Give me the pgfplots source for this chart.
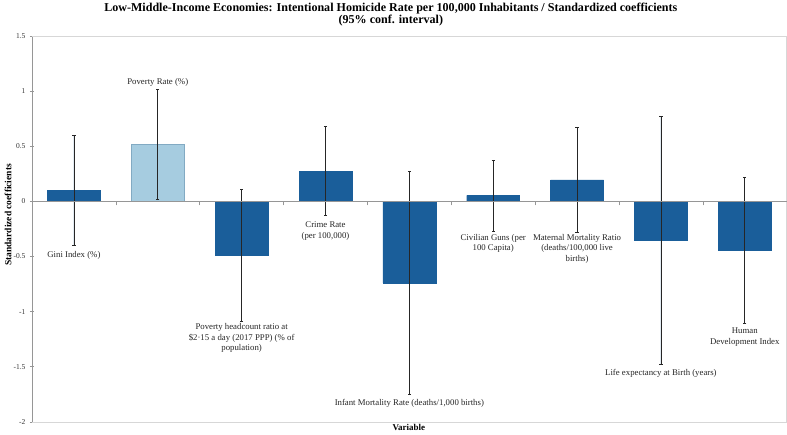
\documentclass[border=0pt]{standalone}
\usepackage{pgfplots}
\pgfplotsset{compat=1.18}
\usepackage{pgfplotstable}
\usepackage{fontspec}
\setmainfont{Liberation Serif}
\definecolor{darkbar}{RGB}{26,94,154}
\definecolor{lightbar}{RGB}{166,204,224}
\definecolor{lightedge}{RGB}{130,170,195}
\definecolor{framegray}{RGB}{215,215,215}
\definecolor{axisgray}{RGB}{150,150,150}
\pgfplotstableread{
x y ep em
0 0.100 0.500 0.500
2 -0.490 0.595 0.595
3 0.275 0.405 0.405
4 -0.740 1.010 1.010
5 0.055 0.320 0.325
6 0.195 0.475 0.475
7 -0.355 1.125 1.125
8 -0.445 0.665 0.665
}\darkdata
\pgfplotstableread{
x y ep em
1 0.520 0.500 0.500
}\lightdata
\begin{document}
\begin{tikzpicture}
\begin{axis}[
  at={(0,0)}, anchor=south west,
  scale only axis, width=755bp, height=386bp,
  xmin=-0.5, xmax=8.5, ymin=-2, ymax=1.5,
  axis x line=middle, axis y line=left,
  axis line style={-, draw=axisgray, line width=0.6bp},
  xtick={0.5,1.5,...,7.5}, xticklabels={},
  ytick={-2,-1.5,-1,-0.5,0,0.5,1,1.5},
  yticklabels={-2,-1.5,-1,-0.5,0,0.5,1,1.5},
  tick align=center, major tick length=4bp,
  tick style={draw=axisgray, line width=0.6bp},
  yticklabel style={font=\fontsize{7.5}{9}\selectfont, text=black!80, xshift=-1bp},
  clip=false,
  ybar, bar width=53bp,
  error bars/error mark=-,
  error bars/error bar style={draw=black!85, line width=0.7bp},
  error bars/error mark options={rotate=90, draw=black!85, line width=0.8bp, mark size=1.6bp},
]
\draw[framegray, line width=0.6bp] (rel axis cs:0,1) -- (rel axis cs:1,1) -- (rel axis cs:1,0) -- (rel axis cs:0,0);
\addplot[bar shift=0pt, fill=darkbar, draw=darkbar,
  error bars/.cd, y dir=both, y explicit]
  table[x=x, y=y, y error plus=ep, y error minus=em] {\darkdata};
\addplot[bar shift=0pt, fill=lightbar, draw=lightedge, line width=0.6bp,
  error bars/.cd, y dir=both, y explicit]
  table[x=x, y=y, y error plus=ep, y error minus=em] {\lightdata};
\draw[axisgray, line width=0.6bp] (axis cs:-0.5,0) -- (axis cs:8.5,0);
\begin{scope}[every node/.style={font=\fontsize{8.8}{10.5}\selectfont, align=center, text=black!85, inner sep=1bp}]
\node[anchor=north] at (axis cs:0,-0.40) [yshift=-5bp] {Gini Index (\%)};
\node[anchor=south] at (axis cs:1,1.02) [yshift=1bp] {Poverty Rate (\%)};
\node[anchor=north] at (axis cs:2,-1.09) [yshift=-1bp] {Poverty headcount ratio at\\\$2·15 a day (2017 PPP) (\% of\\population)};
\node[anchor=north] at (axis cs:3,-0.13) [yshift=-5bp] {Crime Rate\\(per 100,000)};
\node[anchor=north] at (axis cs:4,-1.75) [yshift=-4bp] {Infant Mortality Rate (deaths/1,000 births)};
\node[anchor=north] at (axis cs:5,-0.27) [yshift=-2bp] {Civilian Guns (per\\100 Capita)};
\node[anchor=north] at (axis cs:6,-0.28) [yshift=-1bp] {Maternal Mortality Ratio\\(deaths/100,000 live\\births)};
\node[anchor=north] at (axis cs:7,-1.48) [yshift=-4bp] {Life expectancy at Birth (years)};
\node[anchor=north] at (axis cs:8,-1.11) [yshift=-3bp] {Human\\Development Index};
\end{scope}
\node[font=\bfseries\fontsize{9.5}{11}\selectfont, rotate=90] at (-24bp,207bp) {Standardized coefficients};
\node[font=\bfseries\fontsize{9}{10}\selectfont] at (377bp,-6bp) {Variable};
\node[font=\bfseries\fontsize{12.1}{12}\selectfont, align=center] at (359bp,407bp) {Low-Middle-Income Economies: Intentional Homicide Rate per 100,000 Inhabitants / Standardized coefficients\\(95\% conf. interval)};
\end{axis}
\path[use as bounding box] (-32bp,-11bp) rectangle (755bp,422bp);
\end{tikzpicture}
\end{document}
